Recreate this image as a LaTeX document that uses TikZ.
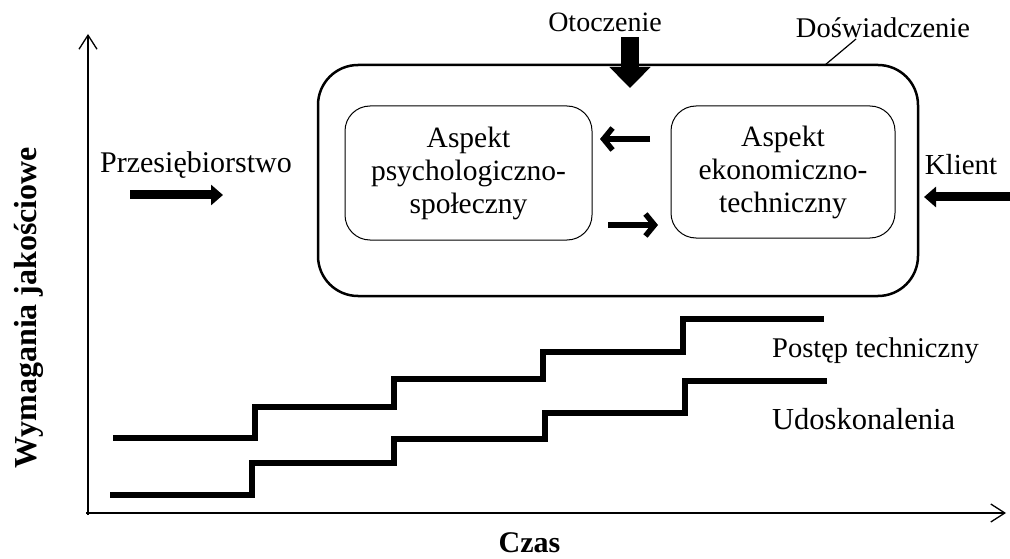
\documentclass[tikz,border=0pt]{standalone}
\usepackage{fontspec}
\setmainfont{Liberation Serif}
\usetikzlibrary{arrows.meta}
\begin{document}
\begin{tikzpicture}[x=1pt,y=-1pt,
  lbl/.style={inner sep=0pt, anchor=base},
  aspectbox/.style={draw, line width=1pt, rounded corners=25pt, align=center, inner sep=0pt,
    font=\fontsize{29.5}{33}\selectfont},
  axisline/.style={line width=1.3pt, -{Straight Barb[length=14pt,width=18pt]}},
  stairs/.style={line width=6pt, line join=miter},
  bigarrow/.style={line width=9pt, -{Triangle[length=12pt,width=20pt]}},
  smallarrow/.style={line width=5.5pt, -{Straight Barb[length=9pt,width=22pt,line width=5.5pt]}}
]
\useasboundingbox (0,0) rectangle (1010,559);

% axes
\coordinate (origin) at (88,513);
\coordinate (ytop) at (88,34);
\coordinate (xend) at (1006,513);
\draw[axisline] (88,515) -- (ytop);
\draw[axisline] (86,513) -- (xend);

\node[lbl, rotate=90, font=\bfseries\fontsize{32}{34}\selectfont] (ylab) at (36,307.5) {Wymagania jakościowe};
\node[lbl, font=\bfseries\fontsize{30}{32}\selectfont] (xlab) at (529.5,552) {Czas};

% big box
\node[draw, line width=2.5pt, rounded corners=40pt, minimum width=600pt, minimum height=231pt, inner sep=0pt] (exp) at (618,180.5) {};

% inner boxes
\node[aspectbox, minimum width=247pt, minimum height=134pt] (psy) at (468.5,173) {Aspekt\\psychologiczno-\\społeczny};
\node[aspectbox, minimum width=224pt, minimum height=132pt] (eko) at (783,172) {Aspekt\\ekonomiczno-\\techniczny};

% arrows between aspects
\coordinate (a1s) at (650,139);
\coordinate (a1e) at (600,139);
\coordinate (a2s) at (608,225);
\coordinate (a2e) at (658,225);
\draw[smallarrow] (a1s) -- (a1e);
\draw[smallarrow] (a2s) -- (a2e);

% labels
\node[lbl, font=\fontsize{28}{30}\selectfont] (otocz) at (605,32) {Otoczenie};
\node[lbl, font=\fontsize{28.5}{30}\selectfont] (dosw) at (883,38) {Doświadczenie};
\node[lbl, font=\fontsize{30}{32}\selectfont] (przed) at (196,172) {Przesiębiorstwo};
\node[lbl, font=\fontsize{29}{32}\selectfont] (klient) at (961,175) {Klient};

% callout
\coordinate (cs) at (856,39);
\coordinate (ce) at (825,65);
\draw[line width=1.2pt] (cs) -- (ce);

% block arrows
\coordinate (o1) at (630,37);
\coordinate (o2) at (630,88);
\draw[line width=18pt, -{Triangle[length=21pt,width=40pt]}] (o1) -- (o2);
\coordinate (p1) at (130,195);
\coordinate (p2) at (223,195);
\draw[bigarrow] (p1) -- (p2);
\coordinate (k1) at (1012,197);
\coordinate (k2) at (924,197);
\draw[bigarrow] (k1) -- (k2);

% staircases
\draw[stairs] (113,438) -- (255,438) -- (255,407) -- (394,407) -- (394,379) -- (543,379) -- (543,352) -- (683,352) -- (683,319) -- (824,319);
\draw[stairs] (110,495) -- (252,495) -- (252,463) -- (394,463) -- (394,439) -- (545,439) -- (545,413) -- (685,413) -- (685,381) -- (827,381);

\node[lbl, anchor=base west, font=\fontsize{28.5}{30}\selectfont] (postep) at (772,357) {Postęp techniczny};
\node[lbl, anchor=base west, font=\fontsize{30.5}{32}\selectfont] (udosk) at (772,429) {Udoskonalenia};
\end{tikzpicture}
\end{document}
